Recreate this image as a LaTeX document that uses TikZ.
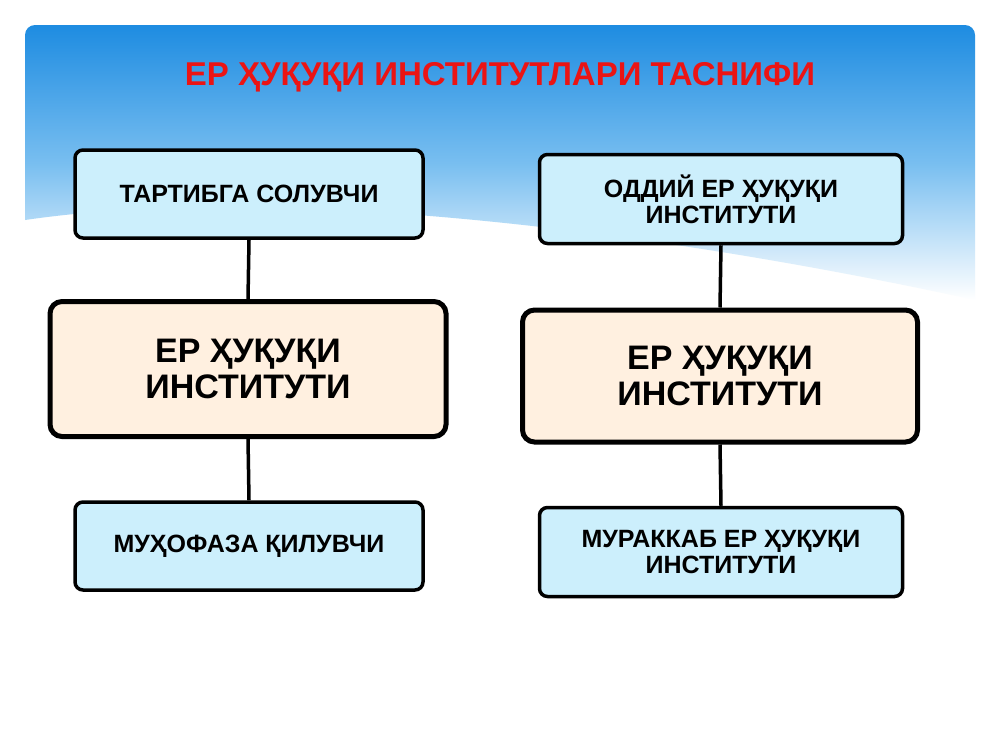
\documentclass[tikz,border=0pt]{standalone}
\usepackage{fontspec}
\setmainfont{Liberation Sans}
\begin{document}
\begin{tikzpicture}[x=1pt,y=-1pt,
 sm/.style={draw=black,line width=3.5pt,rounded corners=8pt,fill=cyan!20,align=center,font=\bfseries\fontsize{25}{26}\selectfont,inner sep=0pt},
 bg/.style={draw=black,line width=5pt,rounded corners=12pt,fill=orange!12,align=center,font=\bfseries\fontsize{34}{36}\selectfont,inner sep=0pt},
 ln/.style={line width=3.5pt}]
\useasboundingbox (0,0) rectangle (1000,750);
\fill[white] (0,0) rectangle (1000,750);
\shade[top color={rgb,255:red,30;green,140;blue,225},bottom color=white,middle color={rgb,255:red,120;green,190;blue,240}]
 (25,220) [rounded corners=10pt] -- (25,25) -- (975,25) [sharp corners] -- (975,300)
 .. controls (700,240) and (300,180) .. (25,220) -- cycle;
\node[text={rgb,255:red,235;green,20;blue,20},font=\bfseries\fontsize{33}{35}\selectfont] (t) at (500,77) {ЕР ҲУҚУҚИ ИНСТИТУТЛАРИ ТАСНИФИ};
\node[sm,minimum width=348,minimum height=88] (l1) at (249,194) {ТАРТИБГА СОЛУВЧИ};
\node[bg,minimum width=396,minimum height=135] (l2) at (248,369) {ЕР ҲУҚУҚИ\\ИНСТИТУТИ};
\node[sm,minimum width=348,minimum height=88] (l3) at (249,546) {МУҲОФАЗА ҚИЛУВЧИ};
\node[sm,minimum width=363,minimum height=89] (r1) at (721,199) {ОДДИЙ ЕР ҲУҚУҚИ\\ИНСТИТУТИ};
\node[bg,minimum width=395,minimum height=132] (r2) at (720,376) {ЕР ҲУҚУҚИ\\ИНСТИТУТИ};
\node[sm,minimum width=363,minimum height=89] (r3) at (721,552) {МУРАККАБ ЕР ҲУҚУҚИ\\ИНСТИТУТИ};
\draw[ln] (l1.south) -- (l2.north);
\draw[ln] (l2.south) -- (l3.north);
\draw[ln] (r1.south) -- (r2.north);
\draw[ln] (r2.south) -- (r3.north);
\end{tikzpicture}
\end{document}
